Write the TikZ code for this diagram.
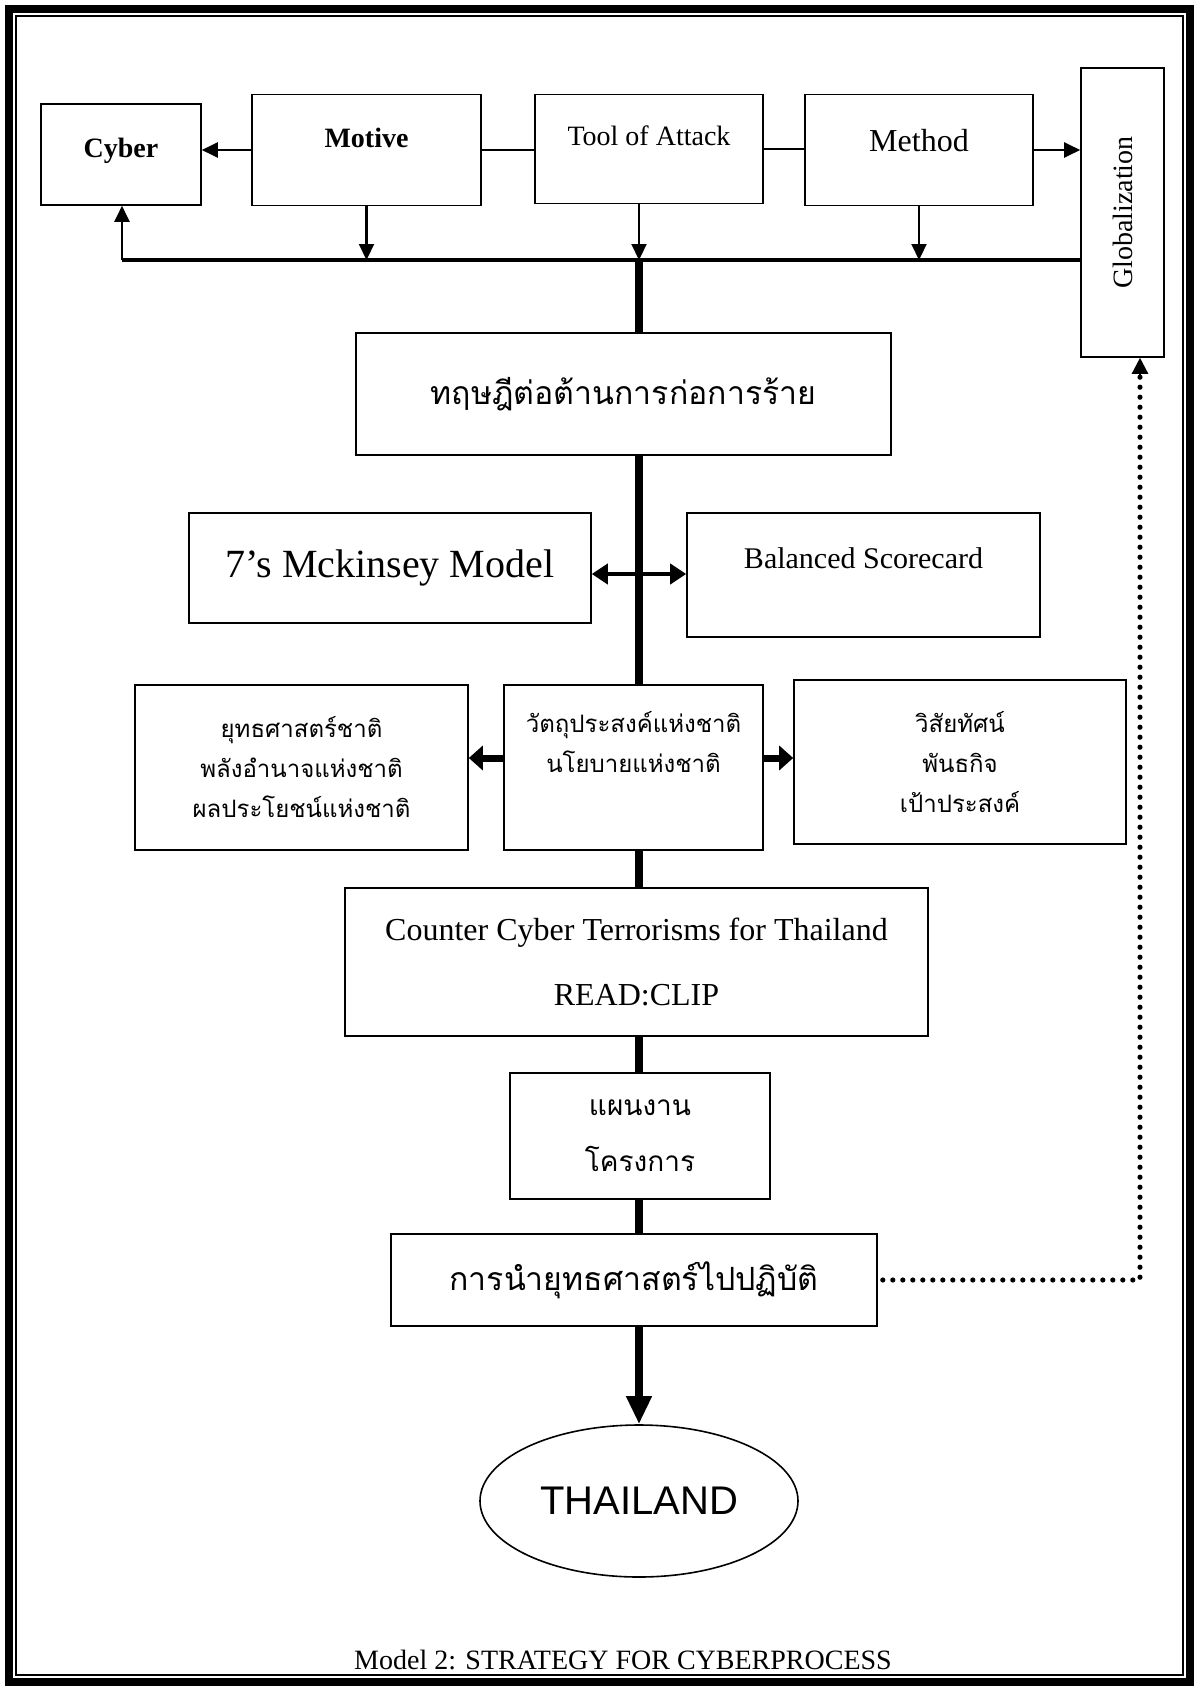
\documentclass[tikz,border=0pt]{standalone}
\usepackage{fontspec}
\usepackage{graphicx}
\setmainfont{Liberation Serif}
\newfontfamily\thaifont[Script=Thai]{Loma}
\newfontfamily\arialfont{Liberation Sans}
\usetikzlibrary{arrows.meta,shapes.geometric}
\newcommand{\fsz}[2]{\fontsize{#1}{#2}\selectfont}

\begin{document}
\begin{tikzpicture}[
  x=0.5pt, y=-0.5pt,
  box/.style   ={draw, line width=0.8pt, fill=white, align=center, inner sep=2pt},
  en/.style    ={font=\fsz{14}{17}},
  thbig/.style ={font=\thaifont\fsz{16}{20}},
  thmid/.style ={font=\thaifont\fsz{12}{20}},
  thplan/.style={font=\thaifont\fsz{14}{28}},
  arr/.style   ={-{Triangle[length=8pt,width=7.5pt]}, line width=1.1pt},
  bus/.style   ={line width=2.2pt},
  spine/.style ={line width=4pt},
  fat/.style   ={-{Triangle[length=7pt,width=12pt]}, line width=3.5pt},
  dbl/.style   ={{Triangle[length=8pt,width=10pt]}-{Triangle[length=8pt,width=10pt]}, line width=2pt},
  dots/.style  ={line width=2.6pt, line cap=round, dash pattern=on 0pt off 5pt, dash phase=2.5pt}
]
\useasboundingbox (0,0) rectangle (1199,1691);

% ---- page frame ----
\draw[line width=4pt] (9,9) rectangle (1190,1682);
\draw[line width=1pt] (16,16) rectangle (1183,1675);

% ---- top row ----
\node[box, minimum width=80pt, minimum height=50.5pt, text depth=7pt, font=\bfseries\fsz{14}{17}] (cyber) at (121,154.5) {Cyber};
\node[box, minimum width=114.5pt, minimum height=55.5pt, text depth=12pt, font=\bfseries\fsz{14}{17}] (motive) at (366.5,150) {Motive};
\node[box, en, minimum width=114pt, minimum height=54.5pt, text depth=13pt] (tool) at (649,149) {Tool of Attack};
\node[box, minimum width=114pt, minimum height=55.5pt, text depth=10pt, font=\fsz{16}{19}] (method) at (919,150) {Method};
\node[box, en, minimum width=41.5pt, minimum height=144.5pt] (glob) at (1122.5,212.5) {\rotatebox{90}{Globalization}};

\draw[arr] (motive.west) -- (motive.west -| cyber.east);
\draw[line width=1.1pt] (motive.east) -- (motive.east -| tool.west);
\draw[line width=1.1pt] (tool.east) -- (tool.east -| method.west);
\draw[arr] (method.east) -- (method.east -| glob.west);

% ---- collecting bus ----
\coordinate (busL) at (122,260);
\coordinate (spineT) at (639,260);
\draw[bus] (busL) -- (busL -| glob.west);
\draw[arr] (busL) -- (busL |- cyber.south);
\draw[arr] (motive.south) -- (motive.south |- busL);
\draw[arr] (tool.south -| spineT) -- (spineT);
\draw[arr] (method.south) -- (method.south |- busL);

% ---- theory and models ----
\node[box, thbig, minimum width=267.5pt, minimum height=61pt] (theory) at (623.5,394) {ทฤษฎีต่อต้านการก่อการร้าย};
\node[box, minimum width=201pt, minimum height=55pt, font=\fsz{20}{24}] (mck) at (390,568) {7’s Mckinsey Model};
\node[box, minimum width=176.5pt, minimum height=62pt, text depth=17pt, font=\fsz{15}{18}] (bsc) at (863.5,575) {Balanced Scorecard};

% ---- national level ----
\node[box, thmid, minimum width=166.5pt, minimum height=82.5pt] (strat) at (301.5,767.5) {ยุทธศาสตร์ชาติ\\พลังอำนาจแห่งชาติ\\ผลประโยชน์แห่งชาติ};
\node[box, thmid, minimum width=129.5pt, minimum height=82.5pt] (goal) at (633.5,767.5) {วัตถุประสงค์แห่งชาติ\\นโยบายแห่งชาติ\\\strut};
\node[box, thmid, minimum width=166pt, minimum height=82pt] (vision) at (960,762) {วิสัยทัศน์\\พันธกิจ\\เป้าประสงค์};

% ---- plan and action ----
\node[box, minimum width=291.5pt, minimum height=74pt, font=\fsz{16}{32.5}] (ccts) at (636.5,962) {Counter Cyber Terrorisms for Thailand\\READ:CLIP};
\node[box, thplan, minimum width=130pt, minimum height=63pt] (plan) at (640,1136) {แผนงาน\\โครงการ};
\node[box, thbig, minimum width=243pt, minimum height=46pt] (impl) at (634,1280) {การนำยุทธศาสตร์ไปปฏิบัติ};
\node[draw, ellipse, line width=0.8pt, minimum width=159pt, minimum height=76pt, font=\arialfont\fsz{20}{24}] (thai) at (639,1501) {THAILAND};

% ---- spine ----
\draw[spine] (spineT) -- (spineT |- theory.north);
\draw[spine] (spineT |- theory.south) -- (spineT |- goal.north);
\draw[spine] (spineT |- goal.south) -- (spineT |- ccts.north);
\draw[spine] (spineT |- ccts.south) -- (spineT |- plan.north);
\draw[spine] (spineT |- plan.south) -- (spineT |- impl.north);
\draw[spine, -{Triangle[length=14pt,width=12pt]}] (spineT |- impl.south) -- (thai.north);

\draw[dbl] ([yshift=-3pt]mck.east) -- ([yshift=-3pt]mck.east -| bsc.west);
\draw[fat] ([yshift=4.75pt]goal.west) -- ([yshift=4.75pt]goal.west -| strat.east);
\draw[fat] ([yshift=4.75pt]goal.east) -- ([yshift=4.75pt]goal.east -| vision.west);

% ---- feedback to globalization ----
\coordinate (dotc) at (1140,1280);
\draw[dots] (impl.east) -- (dotc) -- ([yshift=-8pt]dotc |- glob.south);
\draw[-{Triangle[length=8pt,width=8pt]}, line width=1.2pt] ([yshift=-8.5pt]dotc |- glob.south) -- (dotc |- glob.south);

\node[en] (caption) at (623,1660) {Model 2: STRATEGY FOR CYBERPROCESS};
\end{tikzpicture}
\end{document}
